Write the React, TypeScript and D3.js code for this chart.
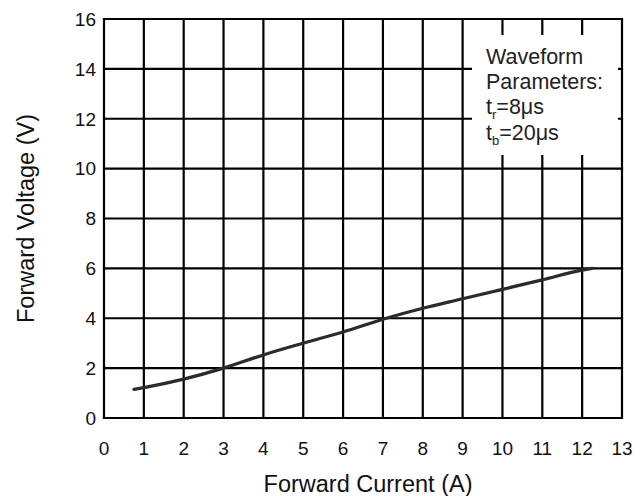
import React from "react";
import * as d3 from "d3";

const currentA = [0.75, 1, 2, 3, 4, 5, 6, 7, 8, 9, 10, 11, 12, 12.25];
const voltageV = [1.15, 1.22, 1.56, 2.0, 2.53, 3.0, 3.45, 3.96, 4.4, 4.78, 5.16, 5.54, 5.93, 6.0];
const xTicks = d3.range(0, 14);
const yTicks = d3.range(0, 17, 2);
const xTitle = "Forward Current (A)";
const yTitle = "Forward Voltage (V)";

const W = 643;
const H = 496;
const FONT = "'Liberation Sans', Arial, sans-serif";

export default function App() {
  const x = d3.scaleLinear().domain([0, 13]).range([104, 622]);
  const y = d3.scaleLinear().domain([0, 16]).range([418, 19]);
  const pts: [number, number][] = currentA.map((c, i) => [c, voltageV[i]]);
  const line = d3
    .line<[number, number]>()
    .x((d) => x(d[0]))
    .y((d) => y(d[1]))
    .curve(d3.curveMonotoneX);

  const box = { x0: 472, x1: 618, y0: 35, y1: 155 };

  return (
    <svg
      width={W}
      height={H}
      style={{ position: "absolute", left: 0, top: 0, background: "#fff" }}
      fontFamily={FONT}
    >
      <rect x={0} y={0} width={W} height={H} fill="#fff" />
      {/* vertical grid */}
      {xTicks.map((t) => (
        <line key={"vx" + t} x1={x(t)} x2={x(t)} y1={y(0)} y2={y(16)} stroke="#000" strokeWidth={2.2} />
      ))}
      {/* horizontal grid */}
      {yTicks.map((t) => (
        <line key={"hy" + t} x1={x(0) - 1.1} x2={x(13) + 1.1} y1={y(t)} y2={y(t)} stroke="#000" strokeWidth={2.2} />
      ))}
      {/* legend box (white cover) */}
      <rect x={box.x0} y={box.y0} width={box.x1 - box.x0} height={box.y1 - box.y0} fill="#fff" />
      {/* curve */}
      <path d={line(pts) || ""} fill="none" stroke="#2b2b2b" strokeWidth={3.2} strokeLinecap="round" />
      {/* x tick labels */}
      {xTicks.map((t) => (
        <text key={"xl" + t} x={x(t)} y={455} textAnchor="middle" fontSize={19} fill="#111">
          {t}
        </text>
      ))}
      {/* y tick labels */}
      {yTicks.map((t) => (
        <text key={"yl" + t} x={96} y={y(t) + 6.8} textAnchor="end" fontSize={19} fill="#111">
          {t}
        </text>
      ))}
      {/* axis titles */}
      <text x={368} y={491.5} textAnchor="middle" fontSize={23.5} fill="#111">
        {xTitle}
      </text>
      <text
        transform={`translate(33.5, ${(y(0) + y(16)) / 2}) rotate(-90)`}
        textAnchor="middle"
        fontSize={23.5}
        fill="#111"
      >
        {yTitle}
      </text>
      {/* legend text */}
      <g fontSize={21.5} fill="#222">
        <text x={486} y={63.5}>Waveform</text>
        <text x={486} y={89}>Parameters:</text>
        <text x={486} y={114}>
          t<tspan fontSize={13} dy={5}>r</tspan>
          <tspan dy={-5}>=8μs</tspan>
        </text>
        <text x={486} y={140}>
          t<tspan fontSize={13} dy={5}>b</tspan>
          <tspan dy={-5}>=20μs</tspan>
        </text>
      </g>
    </svg>
  );
}
